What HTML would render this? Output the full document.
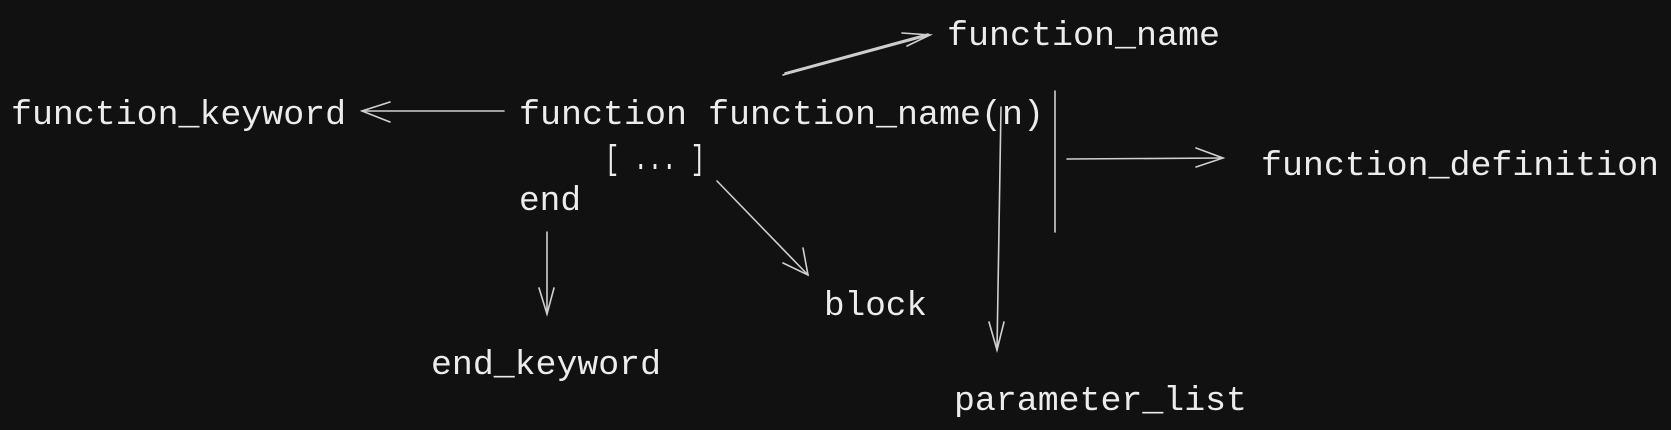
<!DOCTYPE html>
<html><head><meta charset="utf-8"><style>
html,body{margin:0;padding:0;background:#111111;}
svg{display:block;}
text{font-family:"Liberation Mono","DejaVu Sans Mono",monospace;font-size:34px;fill:#ececec;}
</style></head><body>
<svg width="1671" height="430" viewBox="0 0 1671 430" xmlns="http://www.w3.org/2000/svg">
<rect width="1671" height="430" fill="#111111"/>
<g>
<text x="11" y="124" textLength="335" lengthAdjust="spacingAndGlyphs">function_keyword</text>
<text x="519" y="124" textLength="525" lengthAdjust="spacingAndGlyphs">function function_name(n)</text>
<text x="605" y="169" textLength="100" lengthAdjust="spacingAndGlyphs">[ ... ]</text>
<text x="519" y="210" textLength="62" lengthAdjust="spacingAndGlyphs">end</text>
<text x="947" y="45" textLength="273" lengthAdjust="spacingAndGlyphs">function_name</text>
<text x="1261" y="175" textLength="398" lengthAdjust="spacingAndGlyphs">function_definition</text>
<text x="824" y="315" textLength="103" lengthAdjust="spacingAndGlyphs">block</text>
<text x="431" y="374" textLength="230" lengthAdjust="spacingAndGlyphs">end_keyword</text>
<text x="954" y="410" textLength="293" lengthAdjust="spacingAndGlyphs">parameter_list</text>
</g>
<g stroke="#d0d0d0" stroke-width="1.6" fill="none" stroke-linecap="round">
<path d="M504 111 L362 111"/><path d="M390 102 L362 111 L390 122"/>
<path d="M783 75 L930 35"/><path d="M785 73 L928 34"/><path d="M902 33 L930 35 L907 46"/>
<path d="M717 181 L808 275"/><path d="M803 248 L808 275 L783 263"/>
<path d="M547 232 L547 314"/><path d="M539 288 L547 314 L554 288"/>
<path d="M1001 107 L997 350"/><path d="M989 322 L997 350 L1004 322"/>
<path d="M1055 91 L1055 232"/>
<path d="M1067 159 L1223 158"/><path d="M1196 148 L1223 158 L1196 167"/>
</g>
</svg>
</body></html>
